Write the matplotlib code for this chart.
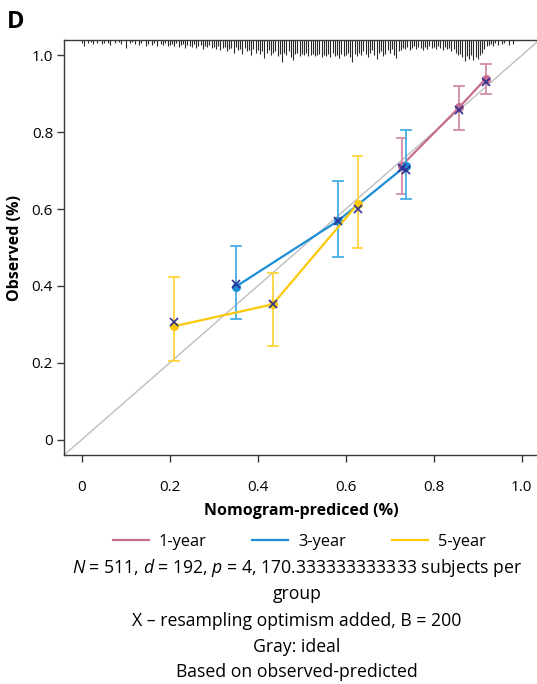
import numpy as np
import matplotlib
matplotlib.use("Agg")
import matplotlib.pyplot as plt
from matplotlib.lines import Line2D

plt.rcParams["font.family"] = ["Open Sans", "DejaVu Sans"]
plt.rcParams["mathtext.fontset"] = "custom"
plt.rcParams["mathtext.it"] = "Open Sans:italic"
plt.rcParams["mathtext.rm"] = "Open Sans"

# ── Calibration groups (predicted, observed, CI, optimism-corrected) ─────────
one_pred = [0.727, 0.858, 0.918]
one_obs = [0.713, 0.865, 0.939]
one_lo = [0.640, 0.807, 0.900]
one_hi = [0.786, 0.920, 0.977]
one_corr = [0.708, 0.858, 0.930]

three_pred = [0.350, 0.582, 0.737]
three_obs = [0.398, 0.569, 0.713]
three_lo = [0.313, 0.475, 0.627]
three_hi = [0.504, 0.673, 0.807]
three_corr = [0.404, 0.570, 0.702]

five_pred = [0.210, 0.434, 0.627]
five_obs = [0.295, 0.352, 0.613]
five_lo = [0.205, 0.243, 0.499]
five_hi = [0.422, 0.433, 0.737]
five_corr = [0.305, 0.352, 0.600]

ticks = [0, 0.2, 0.4, 0.6, 0.8, 1.0]
tick_labels = ["0", "0.2", "0.4", "0.6", "0.8", "1.0"]

# rug of predicted values: spike size per 0.005 bin starting at 0
rug_step = 0.005
rug_counts = [
    3, 6, 0, 3, 2, 4, 0, 3, 0, 4, 3, 0, 3, 5, 0, 3, 0, 2, 4, 0,
    8, 0, 3, 2, 4, 0, 5, 3, 0, 6, 4, 0, 5, 3, 6, 0, 4, 5, 3, 6,
    5, 4, 6, 3, 7, 5, 4, 8, 5, 6, 7, 4, 8, 6, 5, 9, 6, 7, 5, 8,
    7, 9, 6, 10, 8, 7, 11, 9, 8, 12, 7, 10, 9, 13, 8, 11, 10, 14, 9, 12,
    10, 13, 11, 17, 12, 10, 14, 12, 11, 15, 13, 21, 12, 14, 11, 16, 19, 13, 12, 15,
    13, 14, 12, 15, 14, 13, 15, 14, 13, 16, 14, 15, 13, 16, 12, 15, 14, 17, 13, 15,
    14, 12, 16, 21, 13, 15, 12, 14, 11, 13, 16, 12, 10, 14, 18, 12, 11, 15, 13, 10,
    12, 9, 14, 17, 11, 10, 8, 9, 7, 10, 8, 6, 9, 7, 8, 10, 7, 9, 6, 8,
    7, 9, 6, 8, 10, 7, 9, 8, 11, 9, 12, 14, 13, 16, 20, 15, 18, 14, 19, 16,
    18, 14, 12, 9, 6, 5, 4, 6, 3, 5, 0, 4, 3, 0, 5, 0, 4,
]

PINK, PINK_BAR = "#C66E8C", "#D38CA3"
BLUE, BLUE_BAR = "#1B8ED6", "#45AEE6"
YELLOW, YELLOW_BAR = "#FDC80A", "#FFD43A"
NAVY = "#2E3192"

fig = plt.figure(figsize=(5.37, 6.84), dpi=100)
ax = fig.add_axes([0.1194, 0.3348, 0.885, 0.6067])
ax.set_xlim(-0.04, 1.04)
ax.set_ylim(-0.04, 1.04)

# ideal line
ax.plot([-0.04, 1.04], [-0.04, 1.04], color="#BEBEBE", linewidth=1.0, zorder=1)

series = [
    (one_pred, one_obs, one_lo, one_hi, PINK, PINK_BAR),
    (three_pred, three_obs, three_lo, three_hi, BLUE, BLUE_BAR),
    (five_pred, five_obs, five_lo, five_hi, YELLOW, YELLOW_BAR),
]
for i, (px, py, lo, hi, col, bar) in enumerate(series):
    z = 3 + i
    ax.vlines(px, lo, hi, color=bar, linewidth=1.3, zorder=z)
    for xv, l, h in zip(px, lo, hi):
        ax.plot([xv - 0.011, xv + 0.011], [l, l], color=bar, linewidth=1.3, zorder=z)
        ax.plot([xv - 0.011, xv + 0.011], [h, h], color=bar, linewidth=1.3, zorder=z)
    ax.plot(px, py, color=col, linewidth=1.6, marker="o", markersize=6.5,
            markeredgewidth=0, zorder=z)

for px, pc in [(one_pred, one_corr), (three_pred, three_corr), (five_pred, five_corr)]:
    ax.plot(px, pc, linestyle="none", marker="x", color=NAVY, markersize=6,
            markeredgewidth=1.2, zorder=10)

# rug at top
max_c = max(rug_counts)
for i, c in enumerate(rug_counts):
    if c == 0:
        continue
    xv = i * rug_step
    ax.plot([xv, xv], [1.04, 1.04 - 0.057 * c / max_c], color="#2A2A2A",
            linewidth=0.8, solid_capstyle="butt", zorder=2)

for side in ["left", "bottom", "top"]:
    ax.spines[side].set_color("#3A3A3A")
    ax.spines[side].set_linewidth(1.0)
ax.spines["right"].set_visible(False)

ax.set_xticks(ticks)
ax.set_xticklabels(tick_labels)
ax.set_yticks(ticks)
ax.set_yticklabels(tick_labels)
ax.tick_params(axis="both", labelsize=11, length=5, width=1.0, color="#3A3A3A", pad=13)
ax.tick_params(axis="y", pad=3)

ax.set_xlabel("Nomogram-prediced (%)", fontsize=11.5, fontweight="bold", labelpad=6)
ax.set_ylabel("Observed (%)", fontsize=11.5, fontweight="bold", labelpad=6)

fig.text(0.012, 0.968, "D", fontsize=17, fontweight="bold", ha="left", va="center")

handles = [Line2D([], [], color=PINK, linewidth=1.6),
           Line2D([], [], color=BLUE, linewidth=1.6),
           Line2D([], [], color=YELLOW, linewidth=1.6)]
fig.legend(handles, ["1-year", "3-year", "5-year"], loc="center",
           bbox_to_anchor=(0.557, 1 - 542 / 684), ncol=3, frameon=False,
           fontsize=11.8, handlelength=2.2, columnspacing=2.8, handletextpad=0.6)

cx = 0.553
lines = [
    (568, r"$\mathit{N}$ = 511, $\mathit{d}$ = 192, $\mathit{p}$ = 4, 170.333333333333 subjects per"),
    (594, "group"),
    (621, "X \u2013 resampling optimism added, B = 200"),
    (647, "Gray: ideal"),
    (672, "Based on observed-predicted"),
]
for ypix, txt in lines:
    fig.text(cx, 1 - ypix / 684, txt, fontsize=12.7, ha="center", va="center")

fig.savefig("out.png", dpi=100)
